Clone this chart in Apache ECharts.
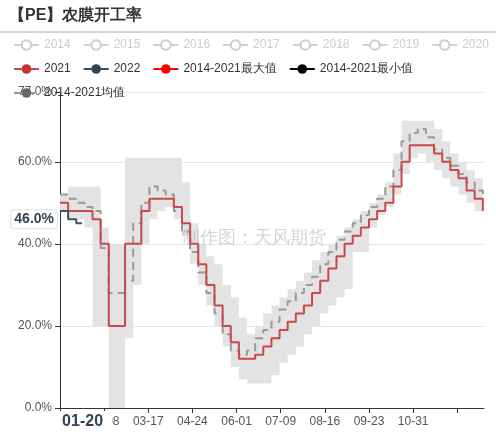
<!DOCTYPE html>
<html><head><meta charset="utf-8">
<script src="https://cdn.jsdelivr.net/npm/echarts@6/dist/echarts.min.js"></script>
<style>body{margin:0}#c{width:496px;height:433px}</style></head>
<body><div id="c"></div>
<script>
// weekly values, first week starts 01-01
var v2021 = [50,48,48,48,46,40,20,20,40,40,48,51,51,51,49,45,40,35,30,25,20,16,12,12,13,15,17,19,21,23,25,28,31,34,37,40,42,44,46,48,50,54,60,64,64,64,62,60,58,56,53,51,48];
var v2022 = [48,46,45,45];
var vMean = [52,51,50,49,48,39,28,28,31,45,50,54,53,52,48,43,38,33,28,23,18,14,13,14,17,19,21,24,26,28,30,32,35,38,41,43,45,47,49,51,54,58,65,67,68,66,63,61,59,57,55,53,52];
var vMax = [52,54,54,54,54,44,40,40,61,61,61,61,61,61,61,55,45,40,37,35,30,27,22,18,20,23,25,27,29,31,33,36,38,40,42,44,46,48,50,52,55,62,70,70,70,70,68,65,62,60,58,56,54];
var vMin = [48,46,46,44,20,20,0,0,17,30,40,46,48,49,46,42,35,30,25,20,15,10,7,6,6,6,8,11,13,15,18,20,23,25,27,29,38,38,44,47,49,52,57,61,62,60,58,56,54,52,50,48,46];
var oldYears = ['2014','2015','2016','2017','2018','2019','2020'];
var lastValue = 46;
var lastDate = '01-20';

// one calendar (leap) year of MM-DD categories
var days = [];
var d0 = new Date(2020, 0, 1);
for (var i = 0; i < 366; i++) {
  var d = new Date(d0.getTime() + i * 86400000 + 3600000);
  days.push(String(d.getMonth() + 1).padStart(2, '0') + '-' + String(d.getDate()).padStart(2, '0'));
}
function weekly(arr) { return arr.map(function (v, k) { return [days[Math.min(k * 7, 365)], v]; }); }

var series = oldYears.map(function (y) { return { name: y, type: 'line', data: [], itemStyle: { color: '#ccc' } }; });
series.push({ name: '2014-2021最小值', type: 'line', step: 'end', stack: 'band', symbol: 'none',
  data: weekly(vMin), itemStyle: { color: '#000' }, lineStyle: { opacity: 0 } });
series.push({ name: '2014-2021最大值', type: 'line', step: 'end', stack: 'band', symbol: 'none',
  data: weekly(vMax.map(function (v, k) { return v - vMin[k]; })), itemStyle: { color: '#f00' },
  lineStyle: { opacity: 0 }, areaStyle: { color: '#e3e3e3', opacity: 1 } });
series.push({ name: '2014-2021均值', type: 'line', step: 'end', symbol: 'none', data: weekly(vMean),
  itemStyle: { color: '#666' }, lineStyle: { color: '#999', type: [8, 5], width: 2 } });
series.push({ name: '2021', type: 'line', step: 'end', symbol: 'none', data: weekly(v2021),
  itemStyle: { color: '#c23531' }, lineStyle: { color: '#c9494a', width: 2 } });
series.push({ name: '2022', type: 'line', step: 'end', symbol: 'none',
  data: v2022.map(function (v, k) { return [k < 3 ? days[k * 7] : lastDate, v]; }),
  itemStyle: { color: '#2f4554' }, lineStyle: { color: '#3b5463', width: 2 } });

var selected = {};
oldYears.forEach(function (y) { selected[y] = false; });

var chart = echarts.init(document.getElementById('c'));
chart.setOption({
  animation: false,
  title: { text: '【PE】农膜开工率', left: 4, top: 3, textStyle: { fontSize: 16, fontWeight: 'bold', color: '#333' } },
  graphic: [
    { type: 'line', shape: { x1: 0, y1: 32, x2: 496, y2: 32 }, style: { stroke: '#aaa', lineWidth: 1 } },
    { type: 'text', left: 182, top: 229, z: 100, style: { text: '制作图：天风期货', fontSize: 18, fill: 'rgba(150,150,150,0.4)' } }
  ],
  legend: {
    left: 8, top: 34, width: 490, itemGap: 12, itemWidth: 25, itemHeight: 12,
    textStyle: { fontSize: 12, color: '#333' }, inactiveColor: '#ccc',
    data: oldYears.concat(['2021', '2022',
      { name: '2014-2021最大值', lineStyle: { opacity: 1, color: '#f00' } },
      { name: '2014-2021最小值', lineStyle: { opacity: 1, color: '#000' } },
      '2014-2021均值']),
    selected: selected
  },
  grid: { left: 60, right: 12, top: 92, bottom: 25 },
  xAxis: {
    type: 'category', data: days, boundaryGap: false,
    axisLine: { lineStyle: { color: '#333' } },
    axisTick: { interval: 37 },
    axisLabel: { interval: 37, color: '#555', fontSize: 12,
      formatter: function (v, i) { return (i === 0 || i > 320) ? '' : v; } },
    axisPointer: {
      show: true, value: lastDate, status: 'show', triggerTooltip: false,
      lineStyle: { opacity: 0 },
      label: { backgroundColor: '#fff', color: '#2f4554', fontWeight: 'bold', fontSize: 16, padding: [3, 9, 3, 10] }
    }
  },
  yAxis: {
    type: 'value', min: 0, max: 77, interval: 20,
    axisLine: { show: true, lineStyle: { color: '#333' } }, axisTick: { show: true },
    splitLine: { lineStyle: { color: '#e6e6e6' } },
    axisLabel: { color: '#555', formatter: function (v) { return v.toFixed(1) + '%'; } },
    axisPointer: {
      show: true, value: lastValue, status: 'show', triggerTooltip: false,
      lineStyle: { opacity: 0 },
      label: { formatter: function (p) { return p.value.toFixed(1) + '%'; }, backgroundColor: '#fff',
        color: '#2f4554', fontWeight: 'bold', fontSize: 14, borderColor: '#ddd', borderWidth: 1, padding: [2, 3] }
    }
  },
  series: series
});
</script></body></html>
